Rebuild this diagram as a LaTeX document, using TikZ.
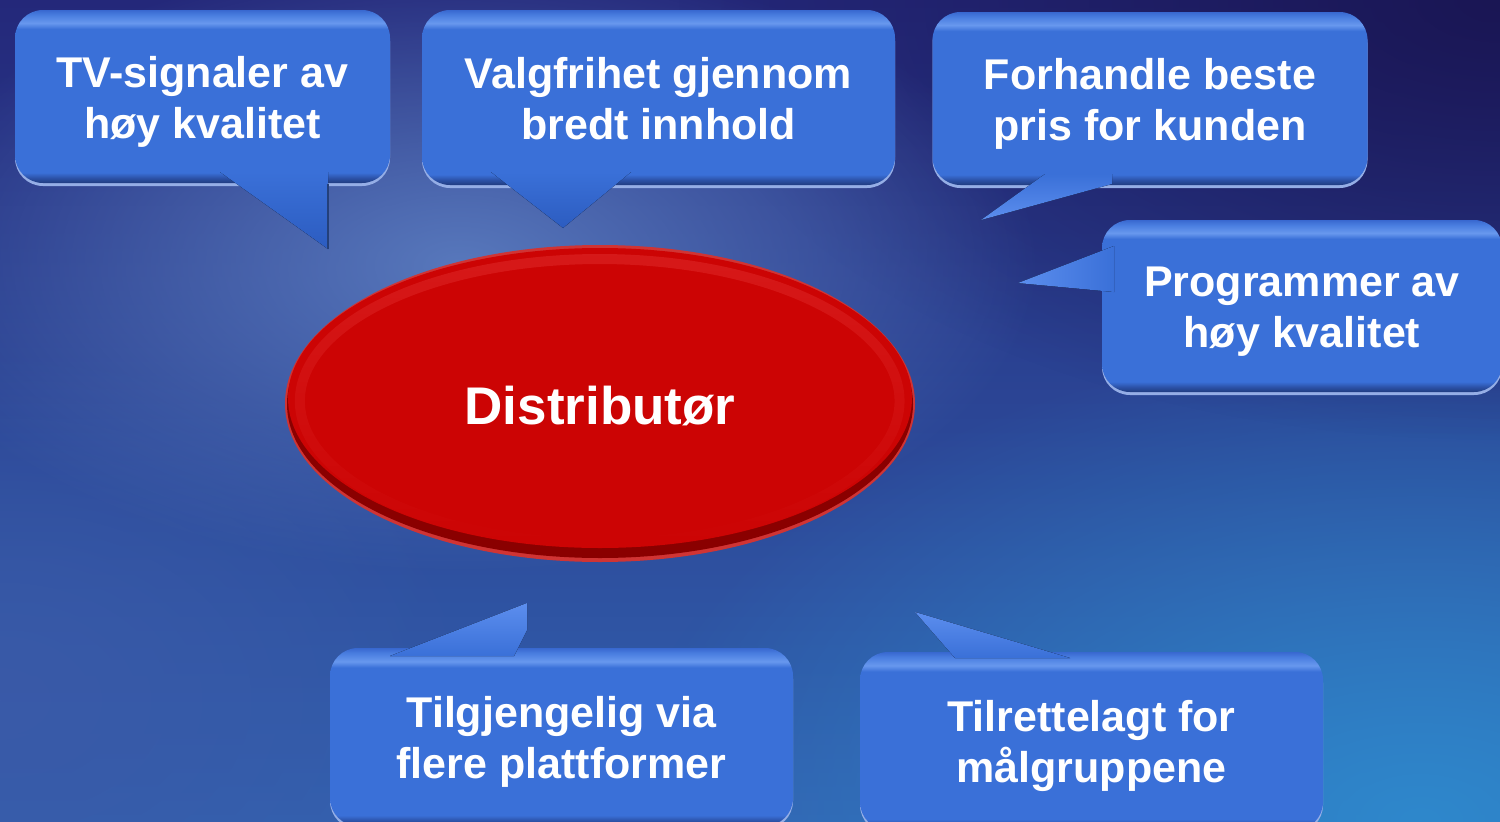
\documentclass[tikz,border=0pt]{standalone}
\usepackage{fontspec}
\setmainfont{Liberation Sans}
\usetikzlibrary{shapes.geometric,fadings}
\tikzfading[name=softglow, inner color=transparent!0, outer color=transparent!100]
\tikzfading[name=topfade, top color=transparent!0, bottom color=transparent!100]
\definecolor{bgTop}{HTML}{24287A}
\definecolor{bgBot}{HTML}{3262B0}
\definecolor{darkGlow}{HTML}{1A1654}
\definecolor{centerGlow}{HTML}{5878BC}
\definecolor{brGlow}{HTML}{2E88CC}
\definecolor{blGlow}{HTML}{3A5AA8}
\definecolor{bvDark}{HTML}{203C80}
\definecolor{bvShade}{HTML}{2C52A8}
\definecolor{bvBase}{HTML}{3A70D8}
\definecolor{bvLight}{HTML}{6898EE}
\definecolor{bvMid}{HTML}{4A7EE0}
\definecolor{bvEdge}{HTML}{3868D0}
\definecolor{rimc}{HTML}{95AEE6}
\definecolor{tailDark}{HTML}{2C5CC0}
\definecolor{tailLight}{HTML}{5C8EEE}
\definecolor{tailEdge}{HTML}{24407A}
\definecolor{redRim}{HTML}{D03434}
\definecolor{redDark}{HTML}{8A0000}
\definecolor{redBase}{HTML}{CC0404}
\definecolor{redHi}{HTML}{F04A4A}
\pgfdeclareverticalshading{bevel}{100bp}{color(0bp)=(bvDark); color(25bp)=(bvDark); color(26.5bp)=(bvShade); color(28bp)=(bvBase); color(69.5bp)=(bvBase); color(71.2bp)=(bvLight); color(73.5bp)=(bvMid); color(75bp)=(bvEdge); color(100bp)=(bvEdge)}
\newcommand\twolines[2]{\rule{0pt}{42pt}#1\\#2\rule[-10pt]{0pt}{10pt}}
\tikzset{
  bubble/.style={shape=rectangle, rounded corners=28pt, inner sep=0pt,
    shading=bevel, text=white, align=center,
    font=\fontsize{43pt}{51pt}\selectfont\bfseries,
    preaction={fill=rimc, transform canvas={yshift=-3pt}}},
  taildown/.style={top color=bvBase, bottom color=tailDark},
  tailup/.style={top color=tailLight, bottom color=bvBase},
  tailside/.style={left color=tailLight, right color=bvBase},
  tailedge/.style={draw=tailEdge, line width=2.5pt},
  glow/.style={path fading=softglow},
}
\begin{document}
\begin{tikzpicture}[x=1pt,y=-1pt]
\useasboundingbox (0,0) rectangle (1500,822);
% background
\fill[top color=bgTop, bottom color=bgBot] (0,0) rectangle (1500,822);
\fill[blGlow, glow] (0,700) ellipse [x radius=500, y radius=350];
\fill[brGlow, glow] (1420,820) ellipse [x radius=800, y radius=480];
\fill[darkGlow, glow] (1500,0) ellipse [x radius=820, y radius=440];
\fill[centerGlow, glow] (460,265) ellipse [x radius=580, y radius=310];
% central ellipse
\fill[redRim] (600,403.5) ellipse [x radius=315, y radius=158.5];
\fill[redDark] (600,404) ellipse [x radius=313, y radius=154];
\fill[redBase] (600,398) ellipse [x radius=312, y radius=150];
\draw[redHi, line width=10pt, opacity=0.3, path fading=topfade] (600,401) ellipse [x radius=300, y radius=142];
\node[text=white, font=\fontsize{53pt}{60pt}\selectfont\bfseries] (dist) at (600,406) {Distributør};
% callouts
\node[bubble, minimum width=375pt, minimum height=173pt] (tv) at (202.5,96.5) {\twolines{TV-signaler av}{høy kvalitet}};
\node[bubble, minimum width=473pt, minimum height=175pt] (valg) at (658.5,97.5) {\twolines{Valgfrihet gjennom}{bredt innhold}};
\node[bubble, minimum width=435pt, minimum height=173pt] (forh) at (1150,98.5) {\twolines{Forhandle beste}{pris for kunden}};
\node[bubble, minimum width=400pt, minimum height=172pt] (prog) at (1302,306) {\twolines{Programmer av}{høy kvalitet}};
\node[bubble, minimum width=463pt, minimum height=178pt] (tilg) at (561.5,737) {\twolines{Tilgjengelig via}{flere plattformer}};
\node[bubble, minimum width=463pt, minimum height=178pt] (tilr) at (1091.5,741) {\twolines{Tilrettelagt for}{målgruppene}};
% tails
\fill[taildown] (220,172) -- (328,172) -- (328,249) -- cycle;
\draw[tailedge] (328,184) -- (328,249);
\fill[taildown] (491,172) -- (563,228) -- (631,172) -- cycle;
\fill[top color=bvBase, bottom color=tailLight] (1045,174) -- (981,220) -- (1112,184) -- (1112,174) -- cycle;
\fill[tailside] (1114,246) -- (1018,283) -- (1114,292) -- cycle;
\fill[tailup] (390,656) -- (527,603) -- (527,630) -- (514,656) -- cycle;
\fill[tailup] (915,612) -- (1070,658) -- (955,658) -- cycle;
\end{tikzpicture}
\end{document}
